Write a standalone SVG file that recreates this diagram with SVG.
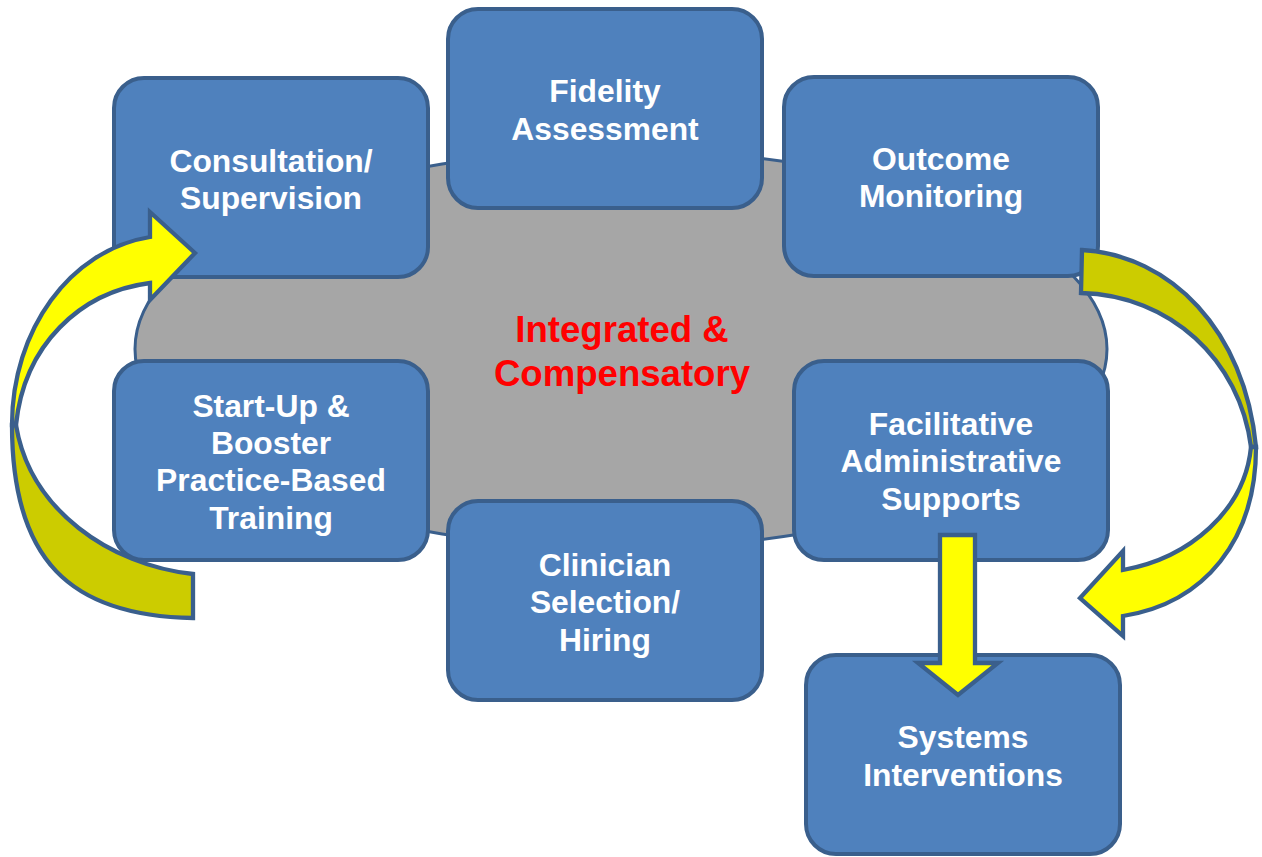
<svg xmlns="http://www.w3.org/2000/svg" width="1262" height="857" viewBox="0 0 1262 857">
<style>
.box{fill:#4f81bd;stroke:#3a5f8c;stroke-width:4}
.t{font-family:"Liberation Sans",Arial,sans-serif;font-weight:bold;font-size:31.8px;fill:#ffffff;text-anchor:middle}
.c{font-family:"Liberation Sans",Arial,sans-serif;font-weight:bold;font-size:36.6px;fill:#ff0000;text-anchor:middle}
.arr{stroke:#3a5f8c;stroke-width:4.3;stroke-linejoin:miter}
</style>
<rect width="1262" height="857" fill="#ffffff"/>
<g id="hub">
<ellipse cx="621" cy="349" rx="486" ry="199" fill="#a6a6a6" stroke="#3a5f8c" stroke-width="3"/>
<text class="c" x="622" y="342">Integrated &amp;</text>
<text class="c" x="622" y="386">Compensatory</text>
</g>
<g id="consultation">
<rect class="box" x="114" y="78" width="314" height="199" rx="30"/>
<text class="t" x="271" y="172">Consultation/</text>
<text class="t" x="271" y="209">Supervision</text>
</g>
<g id="fidelity">
<rect class="box" x="448" y="9" width="314" height="199" rx="30"/>
<text class="t" x="605" y="102">Fidelity</text>
<text class="t" x="605" y="140">Assessment</text>
</g>
<g id="outcome">
<rect class="box" x="784" y="77" width="314" height="199" rx="30"/>
<text class="t" x="941" y="170">Outcome</text>
<text class="t" x="941" y="207">Monitoring</text>
</g>
<g id="startup">
<rect class="box" x="114" y="361" width="314" height="199" rx="30"/>
<text class="t" x="271" y="417">Start-Up &amp;</text>
<text class="t" x="271" y="454">Booster</text>
<text class="t" x="271" y="491">Practice-Based</text>
<text class="t" x="271" y="529">Training</text>
</g>
<g id="clinician">
<rect class="box" x="448" y="501" width="314" height="199" rx="30"/>
<text class="t" x="605" y="576">Clinician</text>
<text class="t" x="605" y="613">Selection/</text>
<text class="t" x="605" y="651">Hiring</text>
</g>
<g id="facilitative">
<rect class="box" x="794" y="361" width="314" height="199" rx="30"/>
<text class="t" x="951" y="435">Facilitative</text>
<text class="t" x="951" y="472">Administrative</text>
<text class="t" x="951" y="510">Supports</text>
</g>
<g id="systems">
<rect class="box" x="806" y="655" width="314" height="199" rx="30"/>
<text class="t" x="963" y="748">Systems</text>
<text class="t" x="963" y="786">Interventions</text>
</g>
<g id="connectors">
<path class="arr" fill="#cccc00" d="M193,574 C110,565 30,510 16,425 L12,425 C12,560 70,616 193,618 Z"/>
<path class="arr" fill="#ffff00" d="M12,425 C12,330 70,250 150,237 L150,212 L195,253 L150,300 L150,283 C80,292 24,345 16,425 Z"/>
<path class="arr" fill="#cccc00" d="M1082,250 C1170,255 1245,330 1256,447 L1251,447 C1240,360 1170,295 1081,293 Z"/>
<path class="arr" fill="#ffff00" d="M1256,447 C1256,540 1205,603 1123,616 L1123,636 L1080,598 L1123,551 L1123,570 C1190,558 1245,510 1251,447 Z"/>
<path class="arr" fill="#ffff00" d="M940,535 L975,535 L975,663 L998,663 L958,695 L918,663 L940,663 Z"/>
</g>
</svg>
